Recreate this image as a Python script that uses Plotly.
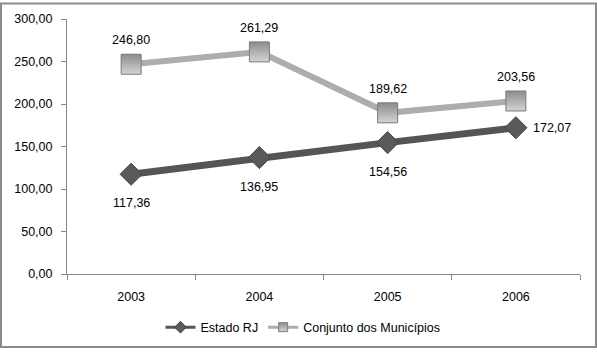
import plotly.graph_objects as go

years = ["2003", "2004", "2005", "2006"]
estado_rj = [117.36, 136.95, 154.56, 172.07]
conjunto = [246.80, 261.29, 189.62, 203.56]
y_ticks = [0, 50, 100, 150, 200, 250, 300]

fmt = lambda v: f"{v:.2f}".replace(".", ",")
FONT = "Liberation Sans, Arial"

est_line = dict(color="#555555", width=7)
est_marker = dict(symbol="diamond", color="#5a5a5a", line=dict(color="#444444", width=1))
con_line = dict(color="#adadad", width=6)
con_marker = dict(symbol="square", color="#8c8c8c",
                  gradient=dict(type="vertical", color="#d4d4d4"),
                  line=dict(color="#7a7a7a", width=1))

fig = go.Figure()
fig.add_trace(go.Scatter(x=years, y=estado_rj, name="Estado RJ", mode="lines+markers",
                         line=est_line, marker=dict(size=17, **est_marker),
                         showlegend=False))
fig.add_trace(go.Scatter(x=years, y=conjunto, name="Conjunto dos Municípios",
                         mode="lines+markers", line=con_line,
                         marker=dict(size=20, **con_marker), showlegend=False))
# legend entries
fig.add_trace(go.Scatter(x=[None], y=[None], name="Estado RJ", mode="lines+markers",
                         line=dict(color="#555555", width=3),
                         marker=dict(size=9, **est_marker)))
fig.add_trace(go.Scatter(x=[None], y=[None], name="Conjunto dos Municípios",
                         mode="lines+markers", line=dict(color="#adadad", width=3),
                         marker=dict(size=9, **con_marker)))

annotations = []
for i, v in enumerate(estado_rj):
    last = i == len(years) - 1
    annotations.append(dict(x=i, y=v, xref="x", yref="y", text=fmt(v), showarrow=False,
                            xshift=36 if last else 0, yshift=0 if last else -29,
                            font=dict(family=FONT, size=12.5, color="#000")))
for i, v in enumerate(conjunto):
    annotations.append(dict(x=i, y=v, xref="x", yref="y", text=fmt(v), showarrow=False,
                            yshift=24, font=dict(family=FONT, size=12.5, color="#000")))

fig.update_layout(
    width=597, height=355,
    margin=dict(l=67, r=17, t=17, b=76),
    paper_bgcolor="white", plot_bgcolor="white",
    separators=",.",
    font=dict(family=FONT, size=12.5, color="#000000"),
    showlegend=True,
    annotations=annotations,
    legend=dict(orientation="h", x=0.46, xanchor="center", y=-0.21, yanchor="middle",
                font=dict(size=12.5), itemwidth=30),
    xaxis=dict(type="category", range=[-0.5, 3.5], tickson="boundaries",
               ticks="outside", ticklen=5, tickcolor="#888888",
               showline=True, linecolor="#888888", linewidth=1,
               showgrid=False, ticklabelstandoff=11),
    yaxis=dict(range=[0, 300], tickvals=y_ticks, tickformat=".2f",
               ticks="outside", ticklen=5, tickcolor="#888888",
               showline=True, linecolor="#888888", linewidth=1,
               showgrid=False, zeroline=False, ticklabelstandoff=6),
    shapes=[dict(type="rect", xref="paper", yref="paper",
                 x0=-66/513, x1=1 + 16/513, y0=-75/262, y1=1 + 16/262,
                 line=dict(color="#8a8a8a", width=2))],
)

fig.write_html("out.html")
